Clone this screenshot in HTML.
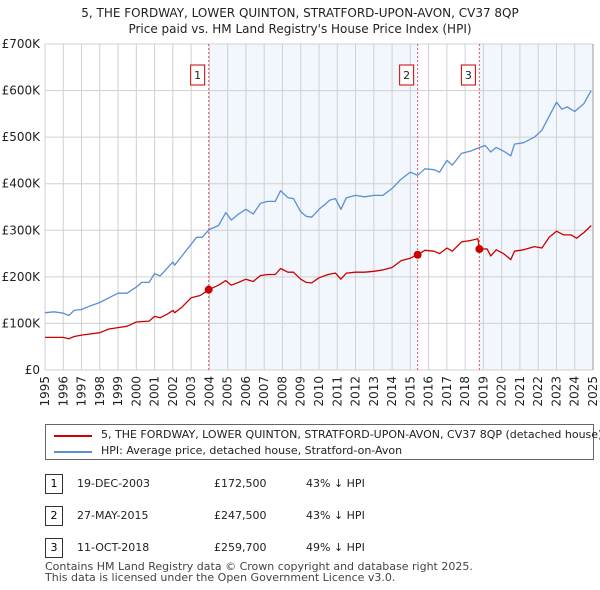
<!DOCTYPE html>
<html><head><meta charset="utf-8"><style>
body{margin:0;background:#fff;font-family:"DejaVu Sans","Liberation Sans",sans-serif;}
#wrap{position:relative;width:600px;height:590px;overflow:hidden;}
.t{position:absolute;font-size:12px;color:#222;white-space:nowrap;}
</style></head><body>
<div id="wrap">
<svg id="chart" width="600" height="420" style="position:absolute;left:0;top:0;font-family:'DejaVu Sans',sans-serif"></svg>
<div style="position:absolute;left:45px;top:424px;width:547px;height:34px;border:1px solid #666;">
  <div style="position:absolute;left:8px;top:10px;width:38px;border-top:2px solid #cc0000"></div>
  <div class="t" style="left:55px;top:3px;font-size:11px">5, THE FORDWAY, LOWER QUINTON, STRATFORD-UPON-AVON, CV37 8QP (detached house)</div>
  <div style="position:absolute;left:8px;top:26px;width:38px;border-top:2px solid #5b8fd4"></div>
  <div class="t" style="left:55px;top:19px;font-size:11px">HPI: Average price, detached house, Stratford-on-Avon</div>
</div>
<div id="rows"></div>
<div class="t" style="left:45px;top:560px;font-size:11px;color:#444">Contains HM Land Registry data © Crown copyright and database right 2025.</div>
<div class="t" style="left:45px;top:571px;font-size:11px;color:#444">This data is licensed under the Open Government Licence v3.0.</div>
</div>
<script>
const hpiX=[1995.0,1995.5,1996.0,1996.3,1996.6,1997,1997.5,1998,1998.5,1999,1999.5,2000,2000.3,2000.7,2001,2001.3,2001.6,2002,2002.1,2002.5,2003,2003.3,2003.6,2004,2004.5,2004.9,2005.2,2005.6,2006,2006.4,2006.8,2007.2,2007.6,2007.9,2008.3,2008.6,2009,2009.3,2009.6,2010,2010.3,2010.6,2010.9,2011.2,2011.5,2012,2012.5,2013,2013.5,2014,2014.5,2015,2015.4,2015.8,2016.3,2016.6,2017,2017.3,2017.8,2018.3,2018.8,2019.1,2019.4,2019.7,2020.1,2020.5,2020.7,2021.2,2021.8,2022.2,2022.6,2023,2023.3,2023.6,2024,2024.5,2024.9];
const hpiY=[123,125,122,117,128,130,138,145,155,165,165,178,188,188,207,202,215,232,225,245,270,285,285,302,310,338,322,335,345,335,358,362,362,385,370,368,340,330,328,345,355,365,368,345,370,375,372,375,375,390,410,425,418,432,430,425,450,440,465,470,478,482,468,478,470,460,485,488,500,515,545,575,560,565,555,572,600];
const redX=[1995,1996,1996.3,1996.6,1997,1998,1998.5,1999,1999.5,2000,2000.7,2001,2001.3,2001.7,2002,2002.1,2002.5,2003,2003.5,2003.96,2004.5,2004.9,2005.2,2005.6,2006,2006.4,2006.8,2007.2,2007.6,2007.9,2008.3,2008.6,2009,2009.3,2009.6,2010,2010.5,2010.9,2011.2,2011.5,2012,2012.5,2013,2013.5,2014,2014.5,2015,2015.4,2015.8,2016.3,2016.6,2017,2017.3,2017.8,2018.3,2018.7,2018.78,2019.2,2019.4,2019.7,2020.1,2020.5,2020.7,2021.2,2021.8,2022.2,2022.6,2023,2023.4,2023.8,2024.1,2024.5,2024.9];
const redY=[70,70,67,72,75,80,88,91,94,103,105,115,112,120,128,123,135,155,160,172.5,182,192,182,188,195,190,203,205,205,218,210,210,195,188,187,198,205,208,195,208,210,210,212,215,220,235,240,247.5,257,255,250,262,255,275,278,282,259.7,260,245,258,250,237,255,258,265,262,285,298,290,290,283,295,310];
const saleX=[2003.96,2015.4,2018.78];
const saleY=[172.5,247.5,259.7];
const saleLabels=["1","2","3"];
const saleDates=["19-DEC-2003","27-MAY-2015","11-OCT-2018"];
const salePrices=["£172,500","£247,500","£259,700"];
const saleHpi=["43% ↓ HPI","43% ↓ HPI","49% ↓ HPI"];
const yTicks=[0,100,200,300,400,500,600,700];
const yTickLabels=["£0","£100K","£200K","£300K","£400K","£500K","£600K","£700K"];
const years=[];for(let y=1995;y<=2025;y++)years.push(y);

const L=45,R=593,T=44,B=370;
const xs=v=>L+(v-1995)/30*(R-L);
const ys=v=>B-v/700*(B-T);
const svg=document.getElementById('chart');const NS='http://www.w3.org/2000/svg';
function mk(tag,attrs,parent){const e=document.createElementNS(NS,tag);for(const k in attrs)e.setAttribute(k,attrs[k]);(parent||svg).appendChild(e);return e;}
let e;
e=mk('text',{x:300,y:17,'text-anchor':'middle','font-size':12,fill:'#222'});e.textContent='5, THE FORDWAY, LOWER QUINTON, STRATFORD-UPON-AVON, CV37 8QP';


e=mk('text',{x:300,y:33,'text-anchor':'middle','font-size':12,fill:'#222'});e.textContent="Price paid vs. HM Land Registry's House Price Index (HPI)";


e=mk('rect',{x:xs(saleX[0]),y:T,width:xs(saleX[1])-xs(saleX[0]),height:B-T,fill:'#f2f6fd'});


e=mk('rect',{x:xs(saleX[2]),y:T,width:R-xs(saleX[2]),height:B-T,fill:'#f2f6fd'});


years.forEach(y=>{e=mk('line',{x1:xs(y),x2:xs(y),y1:T,y2:B,stroke:'#d0d0d0','stroke-width':1});


e=mk('text',{transform:`translate(${xs(y)+4},${B+6}) rotate(-90)`,'text-anchor':'end','font-size':12,fill:'#222'});e.textContent=y;

});
yTicks.forEach((v,i)=>{e=mk('line',{x1:L,x2:R,y1:ys(v),y2:ys(v),stroke:'#d0d0d0','stroke-width':1});


e=mk('text',{x:L-5,y:ys(v)+4,'text-anchor':'end','font-size':12,fill:'#222'});e.textContent=yTickLabels[i];

});
e=mk('line',{x1:R,x2:R,y1:T,y2:B,stroke:'#999','stroke-width':1});


saleX.forEach((x,i)=>{e=mk('line',{x1:xs(x),x2:xs(x),y1:T,y2:B,stroke:'#e55','stroke-width':1,'stroke-dasharray':'2,2'});


const g=mk('g',{});


mk('rect',{x:xs(x)-18,y:65,width:14,height:20,fill:'#fff',stroke:'#c00','stroke-width':1},g);
const t=mk('text',{x:xs(x)-11,y:79,'text-anchor':'middle','font-size':11,fill:'#222'},g);t.textContent=saleLabels[i];});
function path(X,Y,c,n){const d=X.map((x,i)=>(i?'L':'M')+xs(x).toFixed(1)+','+ys(Y[i]).toFixed(1)).join('');
e=mk('path',{d,fill:'none',stroke:c,'stroke-width':1.3,'stroke-linejoin':'round'});

}
path(hpiX,hpiY,'#5b8fd4','hpi-line');
path(redX,redY,'#cc0000','price-paid-line');
saleX.forEach((x,i)=>{e=mk('circle',{cx:xs(x),cy:ys(saleY[i]),r:4,fill:'#cc0000'});

});
const rows=document.getElementById('rows');
saleLabels.forEach((l,i)=>{const top=474+i*32;
const r=document.createElement('div');r.style.cssText=`position:absolute;left:0;top:${top}px;width:600px;height:20px`;


r.innerHTML=`<div style="position:absolute;left:45px;top:0;width:16px;height:18px;border:1px solid #333;font-size:11px;text-align:center;line-height:18px">${l}</div>
<div class="t" style="left:77px;top:3px;font-size:11px">${saleDates[i]}</div>
<div class="t" style="left:214px;top:3px;font-size:11px">${salePrices[i]}</div>
<div class="t" style="left:306px;top:3px;font-size:11px">${saleHpi[i]}</div>`;
rows.appendChild(r);});
</script>
</body></html>
